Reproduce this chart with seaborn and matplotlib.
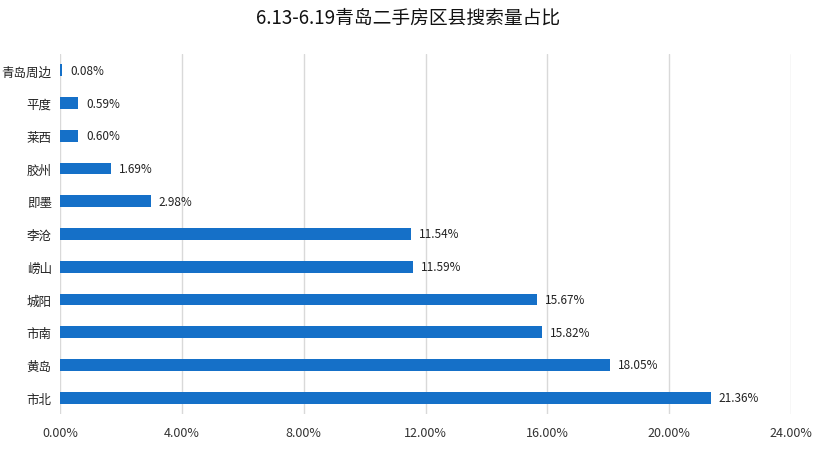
import matplotlib
matplotlib.use("Agg")
import matplotlib.pyplot as plt
import seaborn as sns
import pandas as pd
from matplotlib.ticker import FuncFormatter

categories = ["青岛周边", "平度", "莱西", "胶州", "即墨", "李沧", "崂山", "城阳", "市南", "黄岛", "市北"]
values = [0.08, 0.59, 0.60, 1.69, 2.98, 11.54, 11.59, 15.67, 15.82, 18.05, 21.36]
xticks = [0, 4, 8, 12, 16, 20, 24]
title = "6.13-6.19青岛二手房区县搜索量占比"

sns.set_theme(style="white")
plt.rcParams['font.family'] = ['Noto Sans CJK SC', 'DejaVu Sans']

df = pd.DataFrame({"cat": categories, "val": values})

fig = plt.figure(figsize=(8.17, 4.52), dpi=100)
ax = fig.add_axes([60/817, 1-415/452, 731/817, 360/452])
sns.barplot(data=df, y="cat", x="val", orient="h", color="#1570C8",
            saturation=1, width=0.36, linewidth=0, ax=ax)

ax.set_xlim(0, 24)
ax.set_ylim(10.5, -0.5)
ax.set_xticks(xticks)
ax.xaxis.set_major_formatter(FuncFormatter(lambda v, p: f"{v:.2f}%"))
ax.grid(axis="x", color="#D9D9D9", linewidth=1)
ax.set_axisbelow(True)
for s in ax.spines.values():
    s.set_visible(False)
ax.set_xlabel("")
ax.set_ylabel("")
ax.tick_params(axis="x", labelsize=9, colors="#333333", length=0, pad=9)
ax.tick_params(axis="y", labelsize=9, colors="#222222", length=0, pad=6)

for i, v in enumerate(values):
    ax.text(v + 0.26, i, f"{v:.2f}%", va="center", ha="left", fontsize=8.5, color="#222222")

fig.suptitle(title, x=0.5, y=1-18/452, va="center", fontsize=13.5, color="#111111")
fig.savefig("out.png", dpi=100)
